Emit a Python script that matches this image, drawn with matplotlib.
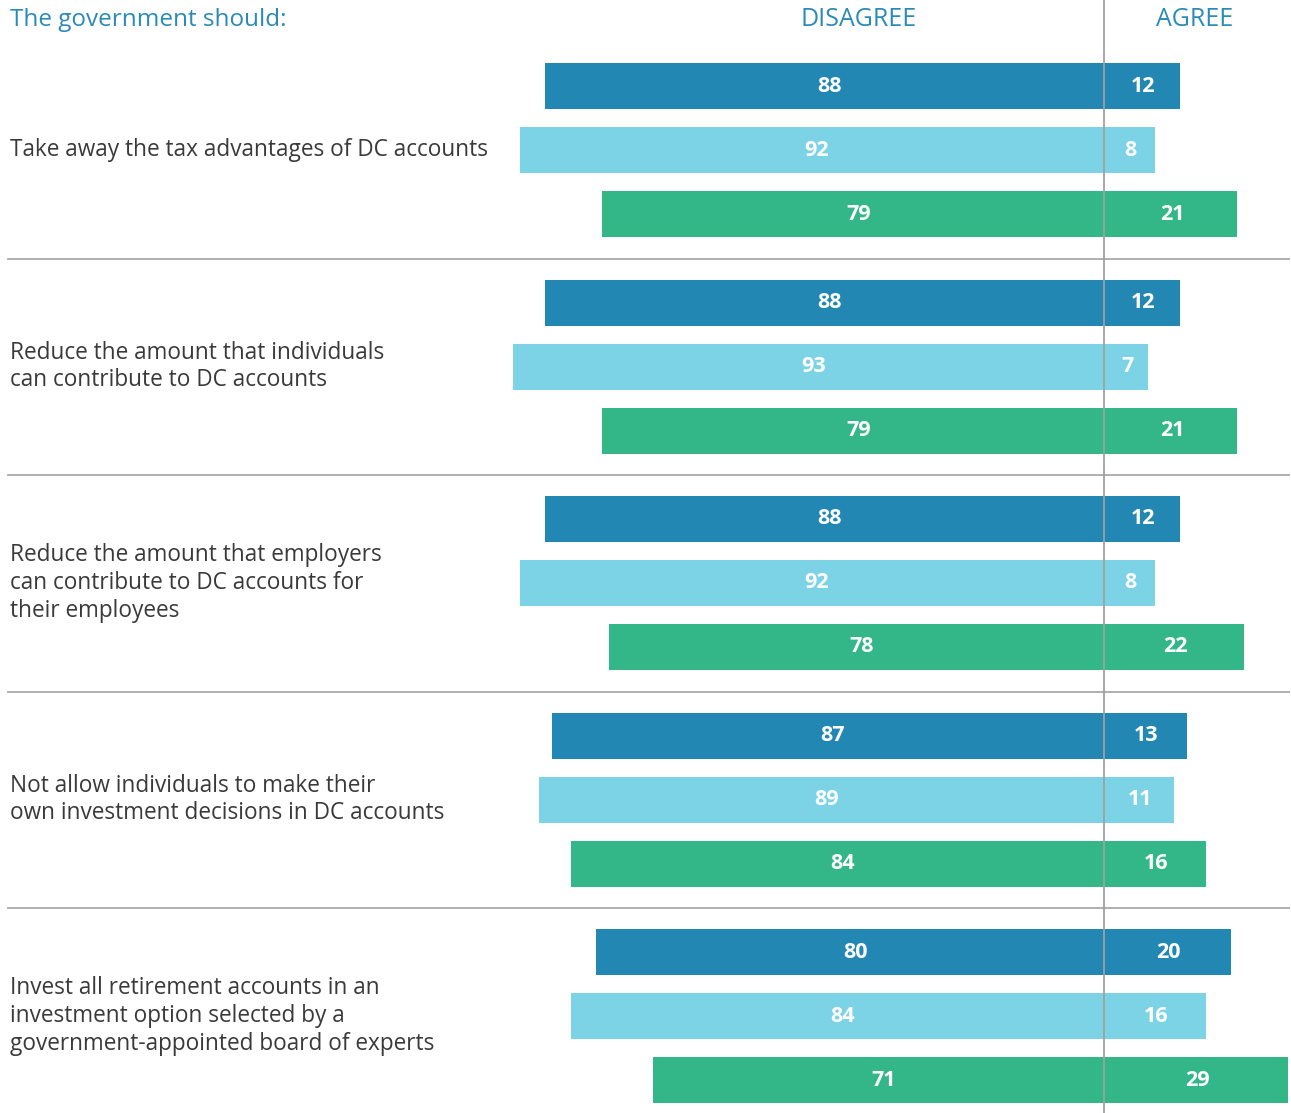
import matplotlib
matplotlib.use("Agg")
import matplotlib.pyplot as plt

questions = [
    "Take away the tax advantages of DC accounts",
    "Reduce the amount that individuals\ncan contribute to DC accounts",
    "Reduce the amount that employers\ncan contribute to DC accounts for\ntheir employees",
    "Not allow individuals to make their\nown investment decisions in DC accounts",
    "Invest all retirement accounts in an\ninvestment option selected by a\ngovernment-appointed board of experts",
]
series_names = ["Series A", "Series B", "Series C"]
disagree = [
    [88, 88, 88, 87, 80],
    [92, 93, 92, 89, 84],
    [79, 79, 78, 84, 71],
]
agree = [
    [12, 12, 12, 13, 20],
    [8, 7, 8, 11, 16],
    [21, 21, 22, 16, 29],
]
colors = ["#2287b2", "#7dd3e6", "#33b688"]
header_color = "#2a8ab8"
text_color = "#3a3a3a"

W, H = 1291, 1113
fig = plt.figure(figsize=(W / 100, H / 100), dpi=100)
ax = fig.add_axes([0, 0, 1, 1])
center_px = 1104
scale = 6.35
ax.set_xlim(-center_px / scale, (W - center_px) / scale)
ax.set_ylim(H, 0)
ax.axis("off")

font = "Open Sans"
group_centers = [150 + 216.5 * i for i in range(len(questions))]
offsets = [-64, 0, 64]
bar_h = 46

for g, qc in enumerate(group_centers):
    for s in range(3):
        y = qc + offsets[s]
        d = disagree[s][g]
        a = agree[s][g]
        ax.barh(y, -d, height=bar_h, color=colors[s], left=0, linewidth=0)
        ax.barh(y, a, height=bar_h, color=colors[s], left=0, linewidth=0)
        ax.text(-d / 2 + 0.8, y, str(d), ha="center", va="center", color="white",
                fontsize=15.5, fontweight="bold", family=font)
        ax.text(a / 2 + 0.2, y, str(a), ha="center", va="center", color="white",
                fontsize=15.5, fontweight="bold", family=font)
    fig.text(10 / W, 1 - qc / H, questions[g], ha="left", va="center", color=text_color,
             fontsize=16.3, family=font, linespacing=1.22)

# separators
for g in range(len(questions) - 1):
    ysep = (group_centers[g] + group_centers[g + 1]) / 2 + 0.5
    ax.plot([8 / W, 1289 / W], [1 - ysep / H] * 2, transform=fig.transFigure,
            color="#a8a8a8", lw=1.3, zorder=1)

# center line
ax.axvline(0, color="#a0a0a0", lw=1.3, zorder=5)

fig.text(10 / W, 1 - 20 / H, "The government should:", ha="left", va="center",
         color=header_color, fontsize=17.5, family=font)
fig.text(859 / W, 1 - 20 / H, "DISAGREE", ha="center", va="center",
         color=header_color, fontsize=18, family=font)
fig.text(1195 / W, 1 - 20 / H, "AGREE", ha="center", va="center",
         color=header_color, fontsize=18, family=font)

fig.savefig("out.png", dpi=100, facecolor="white")
